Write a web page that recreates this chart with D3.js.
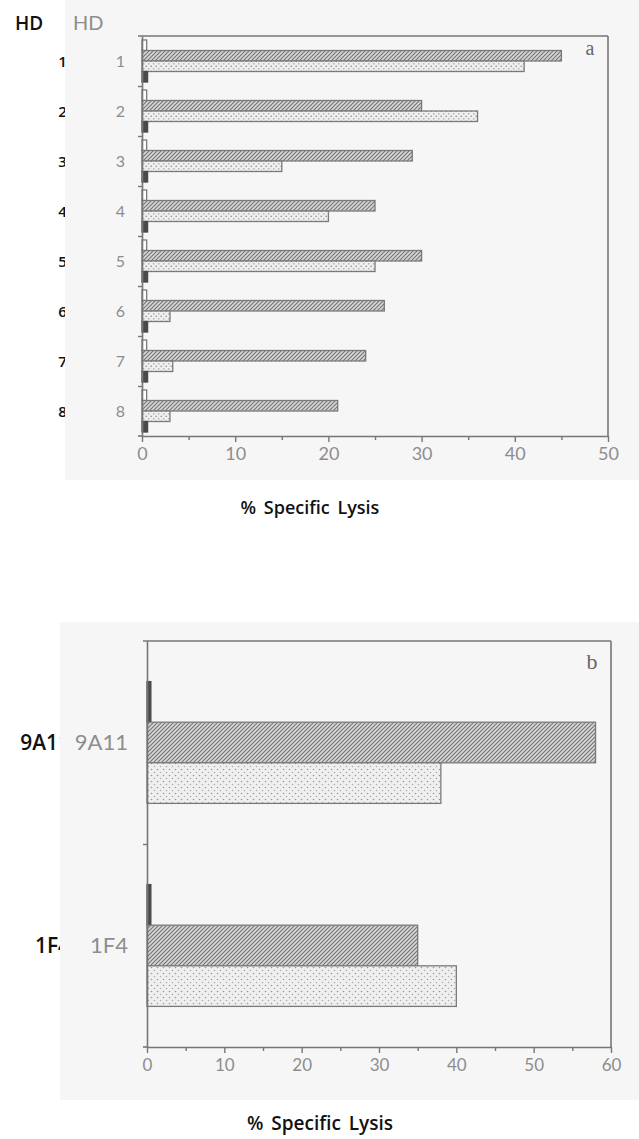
<!DOCTYPE html>
<html>
<head>
<meta charset="utf-8">
<script src="https://cdn.jsdelivr.net/npm/d3@7"></script>
<style>
  html, body { margin: 0; padding: 0; background: #ffffff; }
  svg { display: block; }
</style>
</head>
<body>
<svg id="fig" width="639" height="1139"></svg>
<script>
// ---- Panel a: HD clones 1-8 ----
const groupsA = ["1", "2", "3", "4", "5", "6", "7", "8"];
const openA   = [0.5, 0.5, 0.5, 0.5, 0.5, 0.5, 0.5, 0.5];
const hatchA  = [45, 30, 29, 25, 30, 26, 24, 21];
const dotA    = [41, 36, 15, 20, 25, 3, 3.3, 3];
const solidA  = [0.6, 0.6, 0.6, 0.6, 0.6, 0.6, 0.6, 0.6];
const ticksA  = [0, 10, 20, 30, 40, 50];

// ---- Panel b: clones 9A11 and 1F4 ----
const groupsB = ["9A11", "1F4"];
const solidB  = [0.5, 0.5];
const hatchB  = [58, 35];
const dotB    = [38, 40];
const ticksB  = [0, 10, 20, 30, 40, 50, 60];

const xTitle = "% Specific Lysis";
const header = "HD";

const svg = d3.select("#fig");
const defs = svg.append("defs");

const FRAME = "#767676";
const LABEL = "#8d8d8d";
const SANS = "Lato, 'Open Sans', sans-serif";
const BOLD = "'Open Sans', Lato, sans-serif";

// fill patterns
function hatch(id, size) {
  const p = defs.append("pattern").attr("id", id)
    .attr("patternUnits", "userSpaceOnUse").attr("width", size).attr("height", size);
  p.append("rect").attr("width", size).attr("height", size).attr("fill", "#d6d6d6");
  const d = `M0,${size} L${size},0 M${-size/2},${size/2} L${size/2},${-size/2} M${size/2},${size*1.5} L${size*1.5},${size/2}`;
  p.append("path").attr("d", d).attr("stroke", "#747474").attr("stroke-width", 1.1);
}
function dots(id, size, r) {
  const p = defs.append("pattern").attr("id", id)
    .attr("patternUnits", "userSpaceOnUse").attr("width", size).attr("height", size);
  p.append("rect").attr("width", size).attr("height", size).attr("fill", "#efefef");
  p.append("circle").attr("cx", size/4).attr("cy", size/4).attr("r", r).attr("fill", "#989898");
  p.append("circle").attr("cx", size*3/4).attr("cy", size*3/4).attr("r", r).attr("fill", "#acacac");
}
hatch("hatchA", 4);
hatch("hatchB", 4);
dots("dotA", 5, 0.85);
dots("dotB", 6, 0.8);

function panel(cfg) {
  const g = svg.append("g");

  // scanned backdrop
  g.append("rect").attr("x", cfg.back[0]).attr("y", cfg.back[1])
    .attr("width", cfg.back[2]).attr("height", cfg.back[3]).attr("fill", "#f6f6f6");

  const x = d3.scaleLinear().domain([0, cfg.ticks[cfg.ticks.length - 1]])
    .range([cfg.left, cfg.right]);
  const y = d3.scaleBand().domain(cfg.groups).range([cfg.top, cfg.bottom]).padding(0);
  const inner = d3.scaleBand().domain(cfg.series.map(s => s.key))
    .range([0, y.bandwidth()]).paddingInner(0).paddingOuter(cfg.pad);
  const yLin = d3.scaleLinear().domain([0, cfg.groups.length]).range([cfg.top, cfg.bottom]);

  // bars
  cfg.series.forEach(s => {
    g.append("g").selectAll("rect").data(cfg.groups).join("rect")
      .attr("x", x(0))
      .attr("y", d => y(d) + inner(s.key))
      .attr("width", (d, i) => x(s.values[i]) - x(0))
      .attr("height", inner.bandwidth())
      .attr("fill", s.fill)
      .attr("stroke", s.stroke)
      .attr("stroke-width", 1.3);
  });

  // frame: top and right edges
  g.append("line").attr("x1", cfg.left - 4).attr("x2", cfg.right)
    .attr("y1", cfg.top).attr("y2", cfg.top).attr("stroke", FRAME).attr("stroke-width", 1.6);
  g.append("line").attr("x1", cfg.right).attr("x2", cfg.right)
    .attr("y1", cfg.top).attr("y2", cfg.bottom).attr("stroke", FRAME).attr("stroke-width", 1.6);

  // left axis with ticks at group boundaries
  const ax = g.append("g").attr("transform", `translate(${cfg.left},0)`)
    .call(d3.axisLeft(yLin).tickValues(d3.range(1, cfg.groups.length)).tickSize(4)
      .tickSizeOuter(0).tickFormat(""));
  ax.select(".domain").attr("stroke", FRAME).attr("stroke-width", 1.6);
  ax.selectAll(".tick line").attr("stroke", FRAME).attr("stroke-width", 1.4);

  // bottom axis: labelled majors and half-step minors
  const minor = d3.range(5, cfg.ticks[cfg.ticks.length - 1], 10);
  const bm = g.append("g").attr("transform", `translate(0,${cfg.bottom})`)
    .call(d3.axisBottom(x).tickValues(minor).tickSize(4).tickSizeOuter(0).tickFormat(""));
  bm.select(".domain").remove();
  bm.selectAll(".tick line").attr("stroke", FRAME).attr("stroke-width", 1.4);

  const bx = g.append("g").attr("transform", `translate(0,${cfg.bottom})`)
    .call(d3.axisBottom(x).tickValues(cfg.ticks).tickSize(6).tickSizeOuter(0).tickPadding(cfg.tickPad));
  bx.select(".domain").attr("stroke", FRAME).attr("stroke-width", 1.6);
  bx.selectAll(".tick line").attr("stroke", FRAME).attr("stroke-width", 1.4);
  bx.selectAll(".tick text").attr("fill", LABEL).attr("font-family", SANS)
    .attr("font-size", cfg.tickFont);
  g.append("line").attr("x1", cfg.left - 4).attr("x2", cfg.left)
    .attr("y1", cfg.bottom).attr("y2", cfg.bottom).attr("stroke", FRAME).attr("stroke-width", 1.6);

  // panel letter
  g.append("text").attr("x", cfg.letterPos[0]).attr("y", cfg.letterPos[1])
    .attr("font-family", "'Liberation Serif', 'DejaVu Serif', serif")
    .attr("font-size", cfg.letterFont).attr("fill", "#666").attr("text-anchor", "middle")
    .text(cfg.letter);

  // row labels, plus the darker copy shifted left and cut at the backdrop edge
  const clipId = "clip" + cfg.letter;
  defs.append("clipPath").attr("id", clipId).append("rect")
    .attr("x", 0).attr("y", cfg.back[1]).attr("width", cfg.back[0]).attr("height", cfg.back[3]);

  const labels = cfg.groups.map(d => ({ text: d, x: cfg.labelX, y: y(d) + y.bandwidth() / 2, anchor: "end", size: cfg.labelFont }));
  if (cfg.header) labels.push({ text: cfg.header, x: cfg.headerPos[0], y: cfg.headerPos[1], anchor: "start", size: cfg.headerFont });

  g.append("g").selectAll("text").data(labels).join("text")
    .attr("x", d => d.x).attr("y", d => d.y + d.size * 0.36)
    .attr("text-anchor", d => d.anchor).attr("font-family", SANS)
    .attr("font-size", d => d.size).attr("fill", LABEL).text(d => d.text);

  g.append("g").attr("clip-path", `url(#${clipId})`)
    .selectAll("text").data(labels).join("text")
    .attr("x", d => d.x - cfg.shift).attr("y", d => d.y + d.size * 0.36)
    .attr("text-anchor", d => d.anchor).attr("font-family", BOLD).attr("font-weight", 600)
    .attr("font-size", d => d.size * 0.95).attr("fill", "#111").text(d => d.text);

  // axis title
  g.append("text").attr("x", cfg.titlePos[0]).attr("y", cfg.titlePos[1])
    .attr("text-anchor", "middle").attr("font-family", BOLD).attr("font-weight", 600)
    .attr("font-size", cfg.titleFont).attr("fill", "#111").attr("word-spacing", 3)
    .text(xTitle);
}

panel({
  letter: "a",
  groups: groupsA,
  series: [
    { key: "open",  values: openA,  fill: "#ffffff", stroke: "#7a7a7a" },
    { key: "hatch", values: hatchA, fill: "url(#hatchA)", stroke: "#7a7a7a" },
    { key: "dot",   values: dotA,   fill: "url(#dotA)", stroke: "#7a7a7a" },
    { key: "solid", values: solidA, fill: "#4a4a4a", stroke: "#4a4a4a" }
  ],
  ticks: ticksA,
  left: 142, right: 608, top: 36, bottom: 436,
  pad: 0.38,
  back: [65, 0, 574, 480],
  tickFont: 18, tickPad: 5,
  labelX: 125, labelFont: 16,
  header: header, headerPos: [73, 23], headerFont: 20,
  shift: 58,
  letterPos: [590, 55], letterFont: 20,
  titlePos: [310, 514], titleFont: 18
});

panel({
  letter: "b",
  groups: groupsB,
  series: [
    { key: "solid", values: solidB, fill: "#4a4a4a", stroke: "#4a4a4a" },
    { key: "hatch", values: hatchB, fill: "url(#hatchB)", stroke: "#7a7a7a" },
    { key: "dot",   values: dotB,   fill: "url(#dotB)", stroke: "#7a7a7a" }
  ],
  ticks: ticksB,
  left: 147, right: 611, top: 641, bottom: 1047,
  pad: 1,
  back: [60, 622, 579, 478],
  tickFont: 17, tickPad: 6,
  labelX: 128, labelFont: 22,
  header: null,
  shift: 58,
  letterPos: [592, 669], letterFont: 22,
  titlePos: [320, 1130], titleFont: 19
});
</script>
</body>
</html>
